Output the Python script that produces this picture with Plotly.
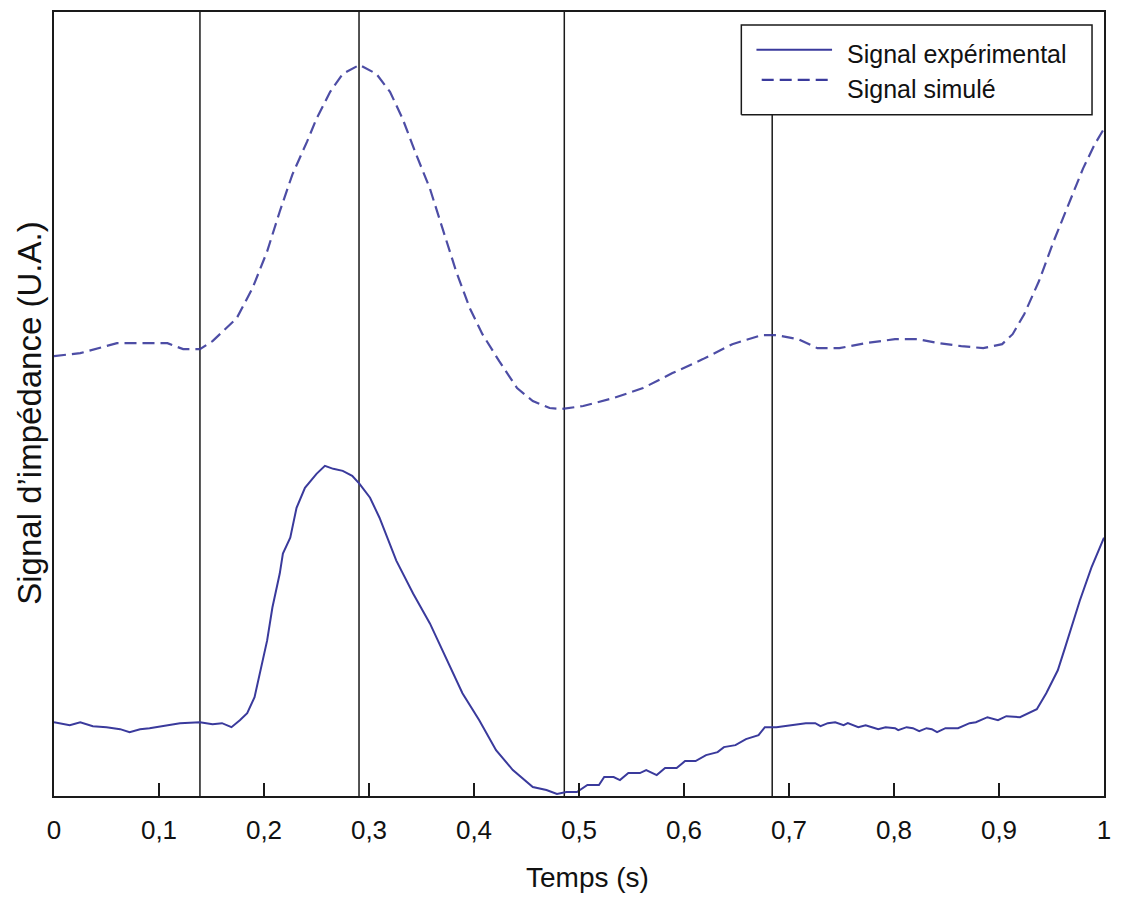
import plotly.graph_objects as go

# Time axis (s) and impedance signals in arbitrary units (U.A.)
t_sim = [0.000, 0.025, 0.060, 0.082, 0.108, 0.123, 0.139, 0.151, 0.174, 0.189,
         0.203, 0.215, 0.227, 0.241, 0.250, 0.263, 0.275, 0.291, 0.307, 0.320,
         0.332, 0.345, 0.358, 0.370, 0.383, 0.396, 0.408, 0.424, 0.441, 0.456,
         0.472, 0.484, 0.504, 0.533, 0.561, 0.589, 0.618, 0.646, 0.674, 0.688,
         0.709, 0.727, 0.748, 0.773, 0.801, 0.822, 0.843, 0.864, 0.885, 0.903,
         0.913, 0.924, 0.938, 0.952, 0.967, 0.980, 0.991, 1.000]
sig_sim = [441, 444, 454, 454, 454, 448, 448, 456, 479, 509,
           546, 586, 623, 656, 679, 706, 724, 733, 724, 706,
           679, 643, 609, 569, 526, 489, 463, 436, 409, 396,
           389, 388, 391, 399, 409, 424, 438, 453, 462, 462,
           458, 449, 449, 454, 458, 458, 454, 451, 449, 453,
           463, 483, 516, 556, 596, 629, 653, 669]

t_exp = [0.000, 0.015, 0.025, 0.037, 0.050, 0.063, 0.072, 0.082, 0.091, 0.108,
         0.120, 0.139, 0.151, 0.160, 0.169, 0.177, 0.184, 0.191, 0.196, 0.203,
         0.208, 0.215, 0.218, 0.225, 0.231, 0.239, 0.250, 0.258, 0.266, 0.275,
         0.284, 0.291, 0.301, 0.310, 0.326, 0.342, 0.358, 0.374, 0.389, 0.405,
         0.421, 0.437, 0.456, 0.469, 0.479, 0.488, 0.498, 0.508, 0.519, 0.524,
         0.533, 0.539, 0.547, 0.558, 0.564, 0.574, 0.582, 0.593, 0.601, 0.611,
         0.621, 0.632, 0.638, 0.649, 0.659, 0.671, 0.677, 0.688, 0.702, 0.716,
         0.725, 0.730, 0.737, 0.744, 0.752, 0.756, 0.766, 0.773, 0.779, 0.785,
         0.792, 0.801, 0.804, 0.812, 0.818, 0.824, 0.831, 0.836, 0.841, 0.849,
         0.861, 0.872, 0.878, 0.889, 0.899, 0.907, 0.920, 0.932, 0.936, 0.945,
         0.956, 0.963, 0.970, 0.977, 0.988, 1.000]
sig_exp = [74, 71, 74, 70, 69, 67, 64, 67, 68, 71,
           73, 74, 72, 73, 69, 76, 83, 99, 123, 156,
           189, 223, 243, 259, 289, 309, 323, 331, 328, 326,
           321, 313, 299, 279, 236, 203, 173, 136, 103, 76,
           46, 26, 9, 6, 2, 4, 4, 11, 11, 19,
           19, 16, 23, 23, 26, 21, 28, 28, 35, 35,
           41, 44, 49, 51, 57, 61, 69, 69, 71, 73,
           73, 70, 73, 74, 71, 73, 69, 71, 69, 67,
           69, 68, 66, 69, 68, 65, 68, 67, 64, 68,
           68, 73, 74, 79, 76, 80, 79, 85, 87, 103,
           126, 149, 173, 196, 229, 259]

# Instants marking the phases of the cycle (s)
t_marks = [0.139, 0.2905, 0.486, 0.684]

x_ticks = [0, 0.1, 0.2, 0.3, 0.4, 0.5, 0.6, 0.7, 0.8, 0.9, 1]
x_tick_text = ["0", "0,1", "0,2", "0,3", "0,4", "0,5", "0,6", "0,7", "0,8", "0,9", "1"]

legend_labels = ["Signal expérimental", "Signal simulé"]

LINE_COLOR = "#3a3a9c"
FRAME_COLOR = "#1a1a1a"
FONT = "Arial, Liberation Sans, sans-serif"
DASH = "12px,6px"
Y_MAX = 786

# Legend box extent (x in axis units, y as a fraction of the plot height)
lx0, lx1 = 0.6546, 0.9886
ly0, ly1 = 0.869, 0.9835

fig = go.Figure()

# Phase markers; a marker passing behind the legend box stops at its lower edge
shapes = []
for tm in t_marks:
    top = ly0 if lx0 <= tm <= lx1 else 1
    shapes.append(dict(type="line", xref="x", yref="paper", x0=tm, x1=tm, y0=0, y1=top,
                       line=dict(color=FRAME_COLOR, width=1.5), layer="below"))

fig.add_trace(go.Scatter(x=t_exp, y=sig_exp, mode="lines", name=legend_labels[0],
                         line=dict(color=LINE_COLOR, width=2)))
fig.add_trace(go.Scatter(x=t_sim, y=sig_sim, mode="lines", name=legend_labels[1],
                         line=dict(color=LINE_COLOR, width=2.2, dash=DASH),
                         opacity=0.9))

# Hand-built legend (box, line samples, labels) in the upper right corner
fig.add_trace(go.Scatter(x=[lx0, lx1, lx1, lx0, lx0],
                         y=[ly0 * Y_MAX, ly0 * Y_MAX, ly1 * Y_MAX, ly1 * Y_MAX, ly0 * Y_MAX],
                         mode="lines", fill="toself", fillcolor="white",
                         line=dict(color=FRAME_COLOR, width=1.5),
                         hoverinfo="skip", showlegend=False))
sample_y = [0.9517 * Y_MAX, 0.9135 * Y_MAX]
fig.add_trace(go.Scatter(x=[0.669, 0.741], y=[sample_y[0]] * 2, mode="lines",
                         line=dict(color=LINE_COLOR, width=2),
                         hoverinfo="skip", showlegend=False))
fig.add_trace(go.Scatter(x=[0.674, 0.741], y=[sample_y[1]] * 2, mode="lines",
                         line=dict(color=LINE_COLOR, width=2.2, dash=DASH),
                         hoverinfo="skip", showlegend=False))

text_y = [0.9466, 0.9020]
annotations = []
for lab, yy in zip(legend_labels, text_y):
    annotations.append(dict(text=lab, xref="paper", yref="paper", x=0.753, y=yy,
                            xanchor="left", yanchor="middle", showarrow=False,
                            font=dict(family=FONT, size=25, color="#111")))
annotations.append(dict(text="Temps (s)", xref="paper", yref="paper", x=0.508, y=-0.104,
                        xanchor="center", yanchor="middle", showarrow=False,
                        font=dict(family=FONT, size=28, color="#111")))
annotations.append(dict(text="Signal d’impédance (U.A.)", xref="paper", yref="paper",
                        x=-0.0235, y=0.488, xanchor="center", yanchor="middle", textangle=-90,
                        showarrow=False, font=dict(family=FONT, size=33, color="#111")))

fig.update_layout(
    width=1121, height=899,
    margin=dict(l=54, r=16, t=10, b=103),
    paper_bgcolor="white", plot_bgcolor="white",
    showlegend=False,
    shapes=shapes, annotations=annotations,
    xaxis=dict(range=[0, 1], tickvals=x_ticks, ticktext=x_tick_text,
               ticks="inside", ticklen=13, tickwidth=1.5, tickcolor=FRAME_COLOR,
               ticklabelstandoff=10,
               showline=True, linecolor=FRAME_COLOR, linewidth=2, mirror=True,
               showgrid=False, zeroline=False,
               tickfont=dict(family=FONT, size=26, color="#111")),
    yaxis=dict(range=[0, Y_MAX], showticklabels=False, ticks="",
               showline=True, linecolor=FRAME_COLOR, linewidth=2, mirror=True,
               showgrid=False, zeroline=False),
)

fig.write_html("out.html")
